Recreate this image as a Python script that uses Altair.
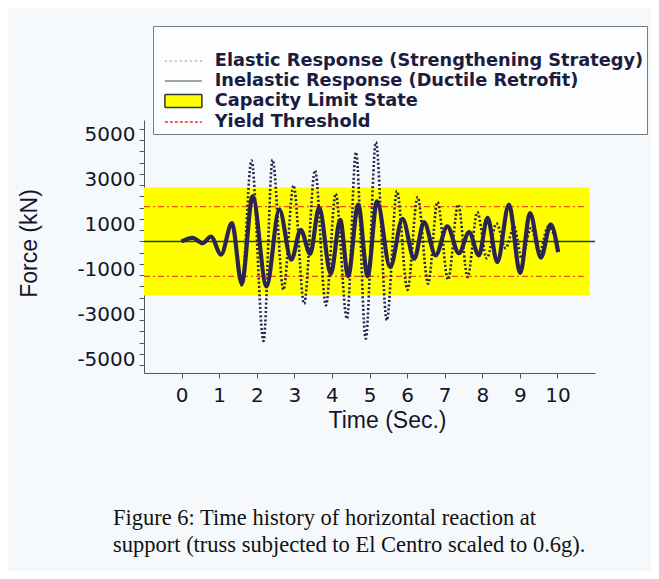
import altair as alt
import pandas as pd

# ---- data ----
time_inelastic = [0, 0.29, 0.56, 0.78, 1.05, 1.34, 1.6, 1.89, 2.26, 2.6, 2.92, 3.17, 3.42, 3.66,
                  3.97, 4.22, 4.43, 4.7, 4.95, 5.2, 5.55, 5.88, 6.19, 6.45, 6.76, 7.07, 7.38,
                  7.65, 7.91, 8.14, 8.4, 8.71, 9.01, 9.27, 9.56, 9.82, 10.02]
force_inelastic = [0, 160, -75, 220, -580, 810, -1880, 2010, -2000, 1420, -810, 520, -550, 1500,
                   -1440, 960, -1540, 1640, -1540, 1780, -1140, 1000, -770, 860, -620, 670, -520,
                   410, -620, 1050, -920, 1640, -1410, 1260, -720, 760, -480]

time_elastic = [0, 0.29, 0.56, 0.78, 1.05, 1.34, 1.6, 1.86, 2.18, 2.42, 2.71, 2.98, 3.26, 3.55,
                3.84, 4.10, 4.40, 4.64, 4.90, 5.17, 5.46, 5.73, 6.01, 6.28, 6.56, 6.81, 7.09,
                7.36, 7.61, 7.87, 8.12, 8.38, 8.62, 8.85, 9.05, 9.3, 9.52, 9.75, 10.0]
force_elastic = [0, 170, -80, 230, -620, 860, -1950, 3600, -4430, 3630, -2150, 2490, -2770, 3160,
                 -2840, 2120, -3440, 3970, -4320, 4410, -3510, 2240, -2150, 1970, -1880, 1750, -1700,
                 1640, -1590, 1300, -750, 800, -300, 650, -750, 600, -500, 650, -100]

capacity_x = [-1, 10.85]
capacity_limit = 2400
yield_x = [-1, 10.7]
yield_limit = 1550
zero_x = [-1, 11]

series_names = ["Elastic Response (Strengthening Strategy)",
                "Inelastic Response (Ductile Retrofit)",
                "Capacity Limit State",
                "Yield Threshold"]

x_ticks = list(range(0, 11))
y_ticks = list(range(-5500, 5001, 500))

# ---- tables ----
inelastic_df = pd.DataFrame({"t": time_inelastic, "f": force_inelastic})
elastic_df = pd.DataFrame({"t": time_elastic, "f": force_elastic})
band_df = pd.DataFrame({"x0": [capacity_x[0]], "x1": [capacity_x[1]],
                        "y0": [-capacity_limit], "y1": [capacity_limit]})
yield_df = pd.DataFrame({"x0": [yield_x[0]] * 2, "x1": [yield_x[1]] * 2,
                         "y": [yield_limit, -yield_limit]})
zero_df = pd.DataFrame({"x0": [zero_x[0]], "x1": [zero_x[1]], "y": [0]})
legend_df = pd.DataFrame({"series": series_names, "t": [0] * 4, "f": [0] * 4})

x_scale = alt.Scale(domain=[-1, 11], nice=False, zero=False)
y_scale = alt.Scale(domain=[-5850, 5400], nice=False, zero=False)

TICK_FONT = "DejaVu Sans"
TITLE_FONT = "Liberation Sans"
x_axis = alt.Axis(values=x_ticks, title="Time (Sec.)", grid=False, labelFont=TICK_FONT,
                  labelFontSize=20, labelColor="#14142a", labelPadding=7, tickSize=5,
                  tickColor="#555", domainColor="#555", titleFont=TITLE_FONT, titleFontSize=23,
                  titleFontWeight="normal", titleColor="#14142a", titleX=243, titlePadding=4,
                  labelFlush=False)
y_axis = alt.Axis(values=y_ticks, title="Force (kN)", grid=False, labelFont=TICK_FONT,
                  labelFontSize=20, labelColor="#14142a", labelPadding=4, tickSize=5,
                  labelOffset=6, labelFlush=False,
                  labelExpr="abs(datum.value) % 2000 == 1000 ? '' + datum.value : ''",
                  tickColor="#555", domainColor="#555", titleFont=TITLE_FONT, titleFontSize=23,
                  titleFontWeight="normal", titleColor="#14142a", titlePadding=35, titleY=123)


def X(field):
    return alt.X(field, type="quantitative", scale=x_scale, axis=x_axis)


def Y(field):
    return alt.Y(field, type="quantitative", scale=y_scale, axis=y_axis)


band = alt.Chart(band_df).mark_rect(color="#ffff00").encode(
    x=X("x0"), x2="x1", y=Y("y0"), y2="y1")

yield_lines = alt.Chart(yield_df).mark_rule(
    color="#e8501a", strokeWidth=1.3, strokeDash=[6, 3, 2, 3]).encode(
    x=X("x0"), x2="x1", y=Y("y"))

zero_line = alt.Chart(zero_df).mark_rule(color="#1e3d22", strokeWidth=1.5).encode(
    x=X("x0"), x2="x1", y=Y("y"))

elastic = alt.Chart(elastic_df).mark_line(
    interpolate="monotone", color="#22224a", strokeWidth=2.6, strokeDash=[2, 2.2]).encode(
    x=X("t"), y=Y("f"), order="t:Q")

inelastic = alt.Chart(inelastic_df).mark_line(
    interpolate="monotone", color="#2a2452", strokeWidth=4.2).encode(
    x=X("t"), y=Y("f"), order="t:Q")

legend = alt.Legend(title=" ", orient="none", legendX=9, legendY=-94, padding=3,
                    symbolSize=100, symbolStrokeWidth=1.5, symbolOpacity=1,
                    labelFont="DejaVu Sans", labelFontWeight="bold", labelFontSize=17.75,
                    labelColor="#1c1c40", labelOffset=41, labelLimit=700,
                    strokeColor="#7a7a7a", fillColor="#fbfdfe", titleFontSize=14,
                    titlePadding=9, rowPadding=1)

line_path = "M0,0L7.4,0"
rect_path = "M0,-1.3L7.4,-1.3L7.4,1.3L0,1.3Z"

legend_layer = alt.Chart(legend_df).mark_point(opacity=0, filled=False).encode(
    x=X("t"), y=Y("f"),
    shape=alt.Shape("series:N", scale=alt.Scale(domain=series_names,
                    range=[line_path, line_path, rect_path, line_path]), legend=legend),
    stroke=alt.Stroke("series:N", scale=alt.Scale(domain=series_names,
                      range=["#c9a9b9", "#7d8c80", "#333333", "#e03a20"]), legend=legend),
    fill=alt.Fill("series:N", scale=alt.Scale(domain=series_names,
                  range=["transparent", "transparent", "#ffff00", "transparent"]), legend=legend),
    strokeDash=alt.StrokeDash("series:N", scale=alt.Scale(domain=series_names,
                              range=[[2, 3], [1, 0], [1, 0], [3, 2]]), legend=legend),
)

chart = alt.layer(band, yield_lines, zero_line, elastic, inelastic, legend_layer).properties(
    width=451, height=253,
    autosize=alt.AutoSizeParams(type="none"),
    padding={"left": 136, "top": 112, "right": 56, "bottom": 198},
    title=alt.Title(
        text=["Figure 6: Time history of horizontal reaction at",
              "support (truss subjected to El Centro scaled to 0.6g)."],
        orient="bottom", anchor="start", frame="group", dx=-31, offset=75,
        font="Liberation Serif", fontSize=22.5, fontWeight="normal", color="#111111",
        lineHeight=27),
).configure(background="#f5f9fb").configure_view(stroke=None)

chart.save("out.html", embed_options={"renderer": "svg", "actions": False})
